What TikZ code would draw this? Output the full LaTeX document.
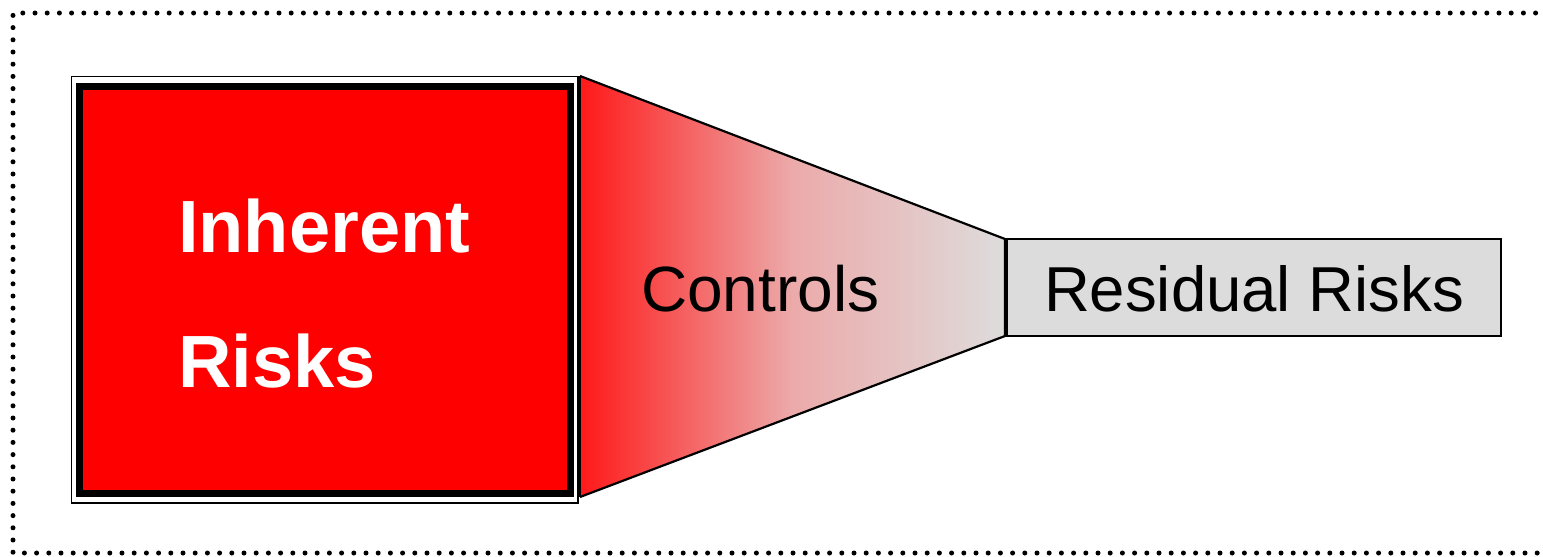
\documentclass[tikz,border=0pt]{standalone}
\usepackage{fontspec}
\setmainfont{Liberation Sans}
\begin{document}
\begin{tikzpicture}[x=1pt,y=-1pt,
  frame/.style={line width=5pt, line cap=round, dash pattern=on 0pt off 12.2pt},
  redbox/.style={draw=black, line width=7pt, fill=red},
  lbl/.style={font=\fontsize{64}{70}\selectfont, text=black, inner sep=0pt, anchor=base west}]
\useasboundingbox (0,0) rectangle (1543,557);
\draw[frame] (1560,13) -- (13,13) -- (13,553) -- (1560,553);
% inherent box
\draw[line width=1.2pt] (71.5,76.5) rectangle (578,503);
\node[redbox, minimum width=491pt, minimum height=407pt, inner sep=0pt] (ir) at (325,290) {};
\node[font=\fontsize{74}{80}\selectfont\bfseries, text=white, inner sep=0pt, anchor=base west] (t1) at (178,252) {Inherent};
\node[font=\fontsize{74}{80}\selectfont\bfseries, text=white, inner sep=0pt, anchor=base west] (t2) at (178,387) {Risks};
% trapezoid
\coordinate (a) at (580,76);
\coordinate (b) at (1005,239);
\coordinate (c) at (1005,336);
\coordinate (d) at (580,497);
\shade[left color={rgb,255:red,255;green,25;blue,25}, right color={rgb,255:red,222;green,220;blue,220}, middle color={rgb,255:red,236;green,170;blue,170}] (a) -- (b) -- (c) -- (d) -- cycle;
\draw[line width=2.2pt, line join=miter] (a) -- (b) -- (c) -- (d);
\draw[line width=1.2pt] (a) -- (d);
\node[lbl] (ctl) at (641,311) {Controls};
% residual
\node[draw=black, line width=2pt, fill={rgb,255:red,220;green,220;blue,220}, minimum width=494pt, minimum height=97pt, inner sep=0pt] (rr) at (1254,287.5) {};
\node[font=\fontsize{63.5}{70}\selectfont, inner sep=0pt, anchor=base] (rrt) at (1254,311) {Residual Risks};
\end{tikzpicture}
\end{document}
